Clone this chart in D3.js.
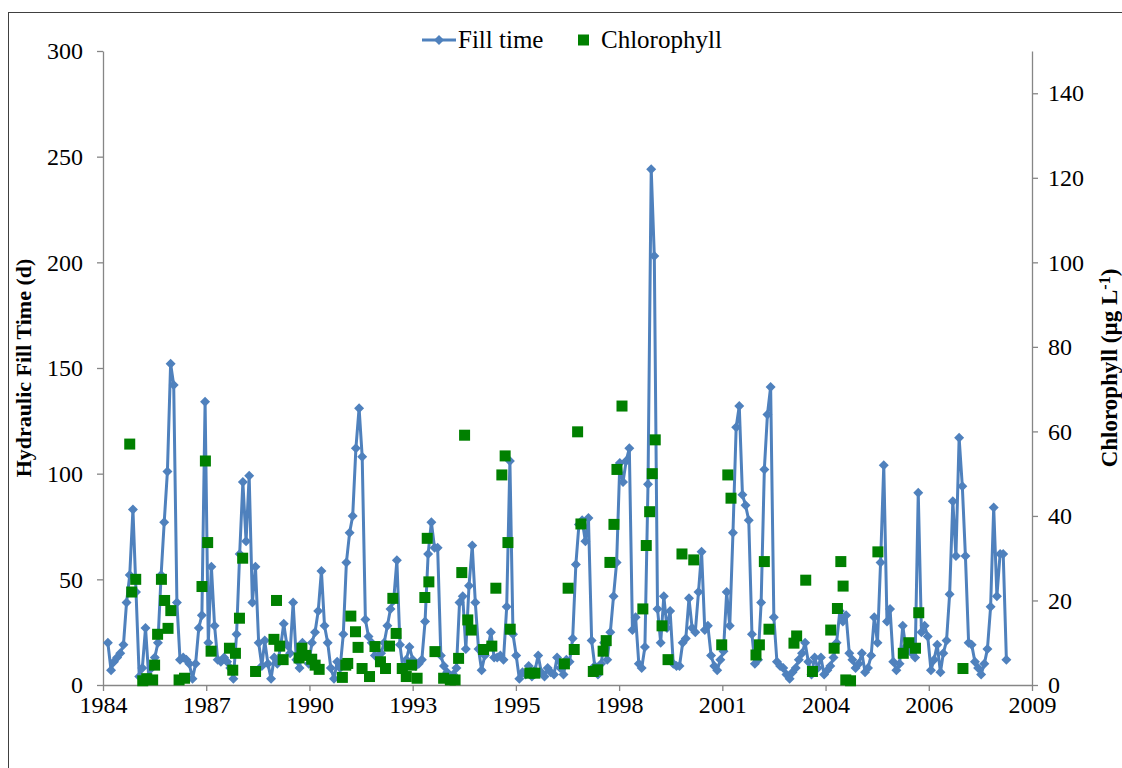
<!DOCTYPE html>
<html>
<head>
<meta charset="utf-8">
<script src="https://cdn.jsdelivr.net/npm/d3@7"></script>
<style>
  body { margin: 0; background: #fff; }
  text { font-family: "Liberation Serif", "Times New Roman", serif; }
</style>
</head>
<body>
<div id="chart"></div>
<script>
// monthly hydraulic fill time (d), first value is Jan 1985
const fillStart = '1985-01-01';
const fillTime = [
  20, 7, 11, 13, 15, 19, 39, 52, 83, 44,
  4, 8, 27, 4, 8, 13, 20, 52, 77, 101,
  152, 142, 39, 12, 13, 12, 10, 3, 10, 27,
  33, 134, 20, 56, 28, 12, 11, 13, 11, 8,
  3, 24, 62, 96, 68, 99, 39, 56, 20, 9,
  21, 10, 3, 13, 10, 18, 29, 19, 15, 39,
  12, 8, 20, 14, 10, 20, 25, 35, 54, 28,
  20, 8, 3, 11, 8, 24, 58, 72, 80, 112,
  131, 108, 31, 23, 20, 14, 13, 15, 20, 28,
  36, 40, 59, 19, 7, 12, 18, 12, 9, 10,
  12, 30, 62, 77, 65, 65, 14, 9, 6, 3,
  5, 8, 39, 42, 17, 47, 66, 39, 17, 7,
  14, 18, 25, 13, 13, 14, 12, 37, 106, 24,
  14, 3, 6, 5, 9, 4, 7, 14, 6, 4,
  8, 6, 5, 13, 8, 5, 12, 11, 22, 57,
  76, 78, 68, 79, 21, 9, 5, 10, 20, 12,
  25, 42, 58, 105, 96, 106, 112, 26, 32, 10,
  8, 18, 95, 244, 203, 36, 20, 42, 27, 35,
  10, 9, 9, 20, 22, 41, 27, 25, 44, 63,
  26, 28, 14, 9, 7, 12, 16, 44, 28, 72,
  122, 132, 90, 85, 78, 24, 10, 12, 39, 102,
  128, 141, 32, 11, 9, 8, 5, 3, 6, 8,
  12, 15, 20, 11, 5, 13, 8, 13, 5, 7,
  9, 13, 20, 35, 30, 33, 15, 12, 8, 10,
  15, 6, 8, 14, 32, 20, 58, 104, 30, 36,
  11, 7, 10, 28, 18, 17, 15, 13, 91, 25,
  28, 23, 7, 12, 19, 6, 15, 21, 43, 87,
  61, 117, 94, 61, 20, 19, 11, 8, 5, 10,
  17, 37, 84, 42, 62, 62, 12
];

// chlorophyll samples (ug/L)
const chlDates = [
  '1985-08-01', '1985-08-20', '1985-09-28', '1985-12-05', '1986-01-13', '1986-03-11', '1986-03-30', '1986-04-28',
  '1986-06-04', '1986-07-05', '1986-08-07', '1986-09-03', '1986-11-22', '1987-01-14', '1987-07-02', '1987-08-04',
  '1987-08-26', '1987-09-28', '1988-03-24', '1988-04-25', '1988-05-21', '1988-06-29', '1988-07-30', '1988-12-02',
  '1989-05-29', '1989-06-23', '1989-07-24', '1989-08-26', '1990-01-28', '1990-02-24', '1990-04-03', '1990-05-30',
  '1990-07-02', '1990-08-10', '1991-03-23', '1991-04-25', '1991-05-14', '1991-06-13', '1991-07-28', '1991-08-22',
  '1991-09-30', '1991-12-11', '1992-02-02', '1992-03-26', '1992-05-14', '1992-06-22', '1992-07-24', '1992-08-25',
  '1992-10-23', '1992-12-01', '1993-01-22', '1993-03-16', '1993-05-30', '1993-06-22', '1993-07-08', '1993-09-05',
  '1993-11-28', '1994-02-01', '1994-03-19', '1994-04-22', '1994-05-23', '1994-06-19', '1994-07-20', '1994-08-22',
  '1994-12-20', '1995-03-10', '1995-04-18', '1995-06-15', '1995-07-17', '1995-08-13', '1995-09-04', '1996-03-12',
  '1996-04-30', '1997-02-10', '1997-03-18', '1997-05-16', '1997-06-18', '1997-07-20', '1997-11-17', '1997-12-30',
  '1998-02-20', '1998-03-22', '1998-04-27', '1998-06-05', '1998-07-04', '1998-08-22', '1999-03-12', '1999-04-14',
  '1999-05-17', '1999-06-11', '1999-07-10', '1999-09-14', '1999-11-11', '2000-03-25', '2000-07-17', '2001-04-14',
  '2001-06-12', '2001-07-13', '2002-03-12', '2002-04-14', '2002-06-01', '2002-07-16', '2003-03-15', '2003-04-10',
  '2003-07-07', '2003-09-10', '2004-03-05', '2004-04-07', '2004-05-09', '2004-06-11', '2004-07-03', '2004-07-29',
  '2004-09-13', '2005-06-05', '2006-02-06', '2006-04-01', '2006-06-04', '2006-07-06', '2007-09-07'
];
const chlValues = [
  57, 22, 25, 1, 1.5, 1.2, 4.7, 12,
  25, 20, 13.4, 17.6, 1.2, 1.6, 23.3, 53,
  33.7, 8, 8.7, 3.5, 7.5, 15.8, 30, 3.2,
  10.8, 20, 9.2, 6, 6.4, 8.7, 7, 6.1,
  4.7, 3.7, 1.8, 4.7, 5.1, 16.3, 12.6, 8.9,
  3.9, 2, 9.1, 5.5, 3.9, 9.2, 20.5, 12.2,
  3.9, 2, 4.7, 1.6, 20.7, 34.7, 24.4, 7.9,
  1.6, 1.2, 1.2, 6.3, 26.6, 59.1, 15.4, 13,
  8.4, 9.2, 22.9, 49.7, 54.2, 33.7, 13.2, 2.8,
  2.8, 5, 22.9, 8.4, 59.9, 38.1, 3.2, 3.6,
  8, 10.5, 29, 38, 51, 66, 18, 33,
  41, 50, 58, 14, 6, 31, 29.6, 9.5,
  49.7, 44.2, 7.1, 9.5, 29.2, 13.2, 9.9, 11.6,
  24.8, 3.2, 13, 8.7, 18.1, 29.2, 23.4, 1.2,
  1, 31.5, 7.5, 10, 8.7, 17.1, 3.9
];

const leftTicks = [0, 50, 100, 150, 200, 250, 300];
const rightTicks = [0, 20, 40, 60, 80, 100, 120, 140];
const legendLabels = ['Fill time', 'Chlorophyll'];

const width = 1122, height = 768;
const margin = { top: 51, right: 90, bottom: 83, left: 103 };
const blue = '#4f81bd', green = '#008000', axisColor = '#868686';

const parse = d3.timeParse('%Y-%m-%d');
const fillData = fillTime.map((v, i) => ({ date: d3.timeMonth.offset(parse(fillStart), i), value: v }));
const chlData = chlDates.map((d, i) => ({ date: parse(d), value: chlValues[i] }));

const svg = d3.select('#chart')
    .append('svg')
    .attr('width', width)
    .attr('height', height);

// chart area frame (only top and left edge fall inside the picture)
svg.append('rect')
    .attr('x', 8.5).attr('y', 12.5)
    .attr('width', 1200).attr('height', 900)
    .attr('fill', 'none')
    .attr('stroke', '#404040');

// excel date axis: major unit of 1000 days
const axisStart = new Date(1984, 10, 15);
const x = d3.scaleTime()
    .domain([axisStart, d3.timeDay.offset(axisStart, 9000)])
    .range([margin.left, width - margin.right]);

const yL = d3.scaleLinear()
    .domain([0, 300])
    .range([height - margin.bottom, margin.top]);

const yR = d3.scaleLinear()
    .domain([0, 150])
    .range([height - margin.bottom, margin.top]);

function styleAxis(g) {
    g.selectAll('path, line').attr('stroke', axisColor).attr('stroke-width', 1.3);
    g.selectAll('text').attr('fill', '#000').style('font-size', '24px');
}

svg.append('g')
    .attr('transform', `translate(0,${height - margin.bottom})`)
    .call(d3.axisBottom(x)
        .tickValues(d3.range(10).map(k => d3.timeDay.offset(axisStart, k * 1000)))
        .tickFormat(d3.timeFormat('%Y'))
        .tickSizeOuter(0)
        .tickPadding(5))
    .call(styleAxis);

svg.append('g')
    .attr('transform', `translate(${margin.left},0)`)
    .call(d3.axisLeft(yL).tickValues(leftTicks).tickSizeOuter(0).tickPadding(14))
    .call(styleAxis);

svg.append('g')
    .attr('transform', `translate(${width - margin.right},0)`)
    .call(d3.axisRight(yR).tickValues(rightTicks).tickSizeOuter(0).tickPadding(10))
    .call(styleAxis);

// axis titles
svg.append('text')
    .attr('transform', `translate(31,${(margin.top + height - margin.bottom) / 2}) rotate(-90)`)
    .attr('text-anchor', 'middle')
    .style('font-size', '22px')
    .style('font-weight', 'bold')
    .text('Hydraulic Fill Time (d)');

const rt = svg.append('text')
    .attr('transform', `translate(1117,${(margin.top + height - margin.bottom) / 2}) rotate(-90)`)
    .attr('text-anchor', 'middle')
    .style('font-size', '23px')
    .style('font-weight', 'bold');
rt.append('tspan').text('Chlorophyll (µg L');
rt.append('tspan').attr('dy', '-0.45em').style('font-size', '16px').text('-1');
rt.append('tspan').attr('dy', '0.3em').text(')');

// fill time line and diamonds
const diamond = r => `M0,${-r}L${r},0L0,${r}L${-r},0Z`;

svg.append('path')
    .datum(fillData)
    .attr('fill', 'none')
    .attr('stroke', blue)
    .attr('stroke-width', 3)
    .attr('stroke-linejoin', 'round')
    .attr('d', d3.line().x(d => x(d.date)).y(d => yL(d.value)));

svg.append('g')
    .selectAll('path')
    .data(fillData)
    .join('path')
    .attr('transform', d => `translate(${x(d.date)},${yL(d.value)})`)
    .attr('d', diamond(5))
    .attr('fill', blue);

// chlorophyll squares (secondary axis)
svg.append('g')
    .selectAll('rect')
    .data(chlData)
    .join('rect')
    .attr('x', d => x(d.date) - 5.5)
    .attr('y', d => yR(d.value) - 5.5)
    .attr('width', 11)
    .attr('height', 11)
    .attr('fill', green);

// legend
const lg = svg.append('g').attr('transform', 'translate(0,40)');
lg.append('line')
    .attr('x1', 422).attr('x2', 456)
    .attr('stroke', blue).attr('stroke-width', 3);
lg.append('path')
    .attr('transform', 'translate(439,0)')
    .attr('d', diamond(5))
    .attr('fill', blue);
lg.append('text')
    .attr('x', 458).attr('y', 8)
    .style('font-size', '25px')
    .text(legendLabels[0]);
lg.append('rect')
    .attr('x', 578).attr('y', -5.5)
    .attr('width', 11).attr('height', 11)
    .attr('fill', green);
lg.append('text')
    .attr('x', 601).attr('y', 8)
    .style('font-size', '25px')
    .text(legendLabels[1]);
</script>
</body>
</html>
